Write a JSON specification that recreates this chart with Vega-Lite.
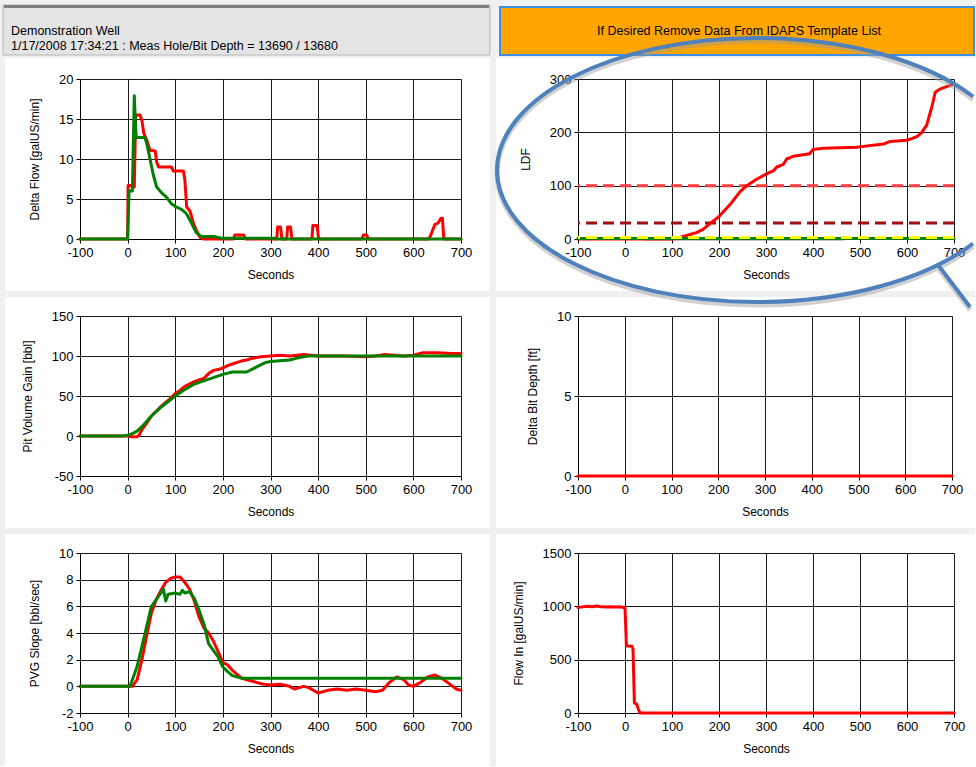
{
  "$schema": "https://vega.github.io/schema/vega-lite/v6.json",
  "background": "white",
  "padding": {"left": 0, "top": 0, "right": 0, "bottom": 0},
  "columns": 2,
  "bounds": "flush",
  "align": "each",
  "spacing": {"row": 77, "column": 117},
  "datasets": {
    "header": [
      {"box": "info", "line": 1, "text": "Demonstration Well"},
      {"box": "info", "line": 2, "text": "1/17/2008  17:34:21 : Meas Hole/Bit Depth = 13690 / 13680"},
      {"box": "action", "line": 1, "text": "If Desired Remove Data From IDAPS Template List"}
    ],
    "callout": [{"note": "LDF"}],
    "deltaFlow": [
      {"series": "Actual", "t": -100, "v": 0}, {"series": "Actual", "t": 0, "v": 0}, {"series": "Actual", "t": 1, "v": 6.7}, {"series": "Actual", "t": 8, "v": 6.7}, {"series": "Actual", "t": 10, "v": 6.5}, {"series": "Actual", "t": 14, "v": 6.5}, {"series": "Actual", "t": 17, "v": 15.5}, {"series": "Actual", "t": 26, "v": 15.5}, {"series": "Actual", "t": 30, "v": 14.8}, {"series": "Actual", "t": 34, "v": 13.2}, {"series": "Actual", "t": 40, "v": 12.4}, {"series": "Actual", "t": 47, "v": 11.1}, {"series": "Actual", "t": 58, "v": 11}, {"series": "Actual", "t": 61, "v": 9.6}, {"series": "Actual", "t": 65, "v": 9}, {"series": "Actual", "t": 92, "v": 9}, {"series": "Actual", "t": 96, "v": 8.5}, {"series": "Actual", "t": 117, "v": 8.5}, {"series": "Actual", "t": 120, "v": 7.5}, {"series": "Actual", "t": 124, "v": 4}, {"series": "Actual", "t": 131, "v": 3.5}, {"series": "Actual", "t": 138, "v": 2}, {"series": "Actual", "t": 145, "v": 1}, {"series": "Actual", "t": 152, "v": 0.2}, {"series": "Actual", "t": 160, "v": 0}, {"series": "Actual", "t": 222, "v": 0}, {"series": "Actual", "t": 225, "v": 0.5}, {"series": "Actual", "t": 244, "v": 0.5}, {"series": "Actual", "t": 247, "v": 0}, {"series": "Actual", "t": 313, "v": 0}, {"series": "Actual", "t": 315, "v": 1.5}, {"series": "Actual", "t": 321, "v": 1.5}, {"series": "Actual", "t": 324, "v": 0}, {"series": "Actual", "t": 334, "v": 0}, {"series": "Actual", "t": 336, "v": 1.5}, {"series": "Actual", "t": 342, "v": 1.5}, {"series": "Actual", "t": 345, "v": 0}, {"series": "Actual", "t": 387, "v": 0}, {"series": "Actual", "t": 389, "v": 1.7}, {"series": "Actual", "t": 398, "v": 1.7}, {"series": "Actual", "t": 401, "v": 0}, {"series": "Actual", "t": 492, "v": 0}, {"series": "Actual", "t": 495, "v": 0.5}, {"series": "Actual", "t": 502, "v": 0.5}, {"series": "Actual", "t": 505, "v": 0}, {"series": "Actual", "t": 632, "v": 0}, {"series": "Actual", "t": 636, "v": 0.4}, {"series": "Actual", "t": 645, "v": 1.8}, {"series": "Actual", "t": 652, "v": 2}, {"series": "Actual", "t": 658, "v": 2.6}, {"series": "Actual", "t": 661, "v": 2.6}, {"series": "Actual", "t": 664, "v": 0}, {"series": "Actual", "t": 700, "v": 0},
      {"series": "Expected", "t": -100, "v": 0}, {"series": "Expected", "t": 0, "v": 0}, {"series": "Expected", "t": 3, "v": 6}, {"series": "Expected", "t": 10, "v": 6}, {"series": "Expected", "t": 12, "v": 12}, {"series": "Expected", "t": 14, "v": 17.9}, {"series": "Expected", "t": 16, "v": 15}, {"series": "Expected", "t": 18, "v": 12.7}, {"series": "Expected", "t": 36, "v": 12.7}, {"series": "Expected", "t": 40, "v": 12}, {"series": "Expected", "t": 47, "v": 10}, {"series": "Expected", "t": 54, "v": 8}, {"series": "Expected", "t": 61, "v": 6.5}, {"series": "Expected", "t": 71, "v": 5.8}, {"series": "Expected", "t": 82, "v": 5.2}, {"series": "Expected", "t": 92, "v": 4.4}, {"series": "Expected", "t": 102, "v": 4}, {"series": "Expected", "t": 113, "v": 3.7}, {"series": "Expected", "t": 123, "v": 3.2}, {"series": "Expected", "t": 134, "v": 2}, {"series": "Expected", "t": 144, "v": 0.8}, {"series": "Expected", "t": 155, "v": 0.3}, {"series": "Expected", "t": 183, "v": 0.3}, {"series": "Expected", "t": 197, "v": 0.1}, {"series": "Expected", "t": 308, "v": 0.1}, {"series": "Expected", "t": 312, "v": 0}, {"series": "Expected", "t": 700, "v": 0}
    ],
    "ldf": [
      {"series": "Ref", "t": 40, "v": -1}, {"series": "Ref", "t": 465, "v": -1},
      {"series": "LDF", "t": -100, "v": 0}, {"series": "LDF", "t": 100, "v": 0}, {"series": "LDF", "t": 110, "v": 1}, {"series": "LDF", "t": 124, "v": 5}, {"series": "LDF", "t": 140, "v": 9}, {"series": "LDF", "t": 152, "v": 12}, {"series": "LDF", "t": 166, "v": 18}, {"series": "LDF", "t": 181, "v": 29}, {"series": "LDF", "t": 200, "v": 42}, {"series": "LDF", "t": 224, "v": 65}, {"series": "LDF", "t": 244, "v": 88}, {"series": "LDF", "t": 259, "v": 100}, {"series": "LDF", "t": 280, "v": 112}, {"series": "LDF", "t": 301, "v": 122}, {"series": "LDF", "t": 316, "v": 128}, {"series": "LDF", "t": 323, "v": 135}, {"series": "LDF", "t": 337, "v": 140}, {"series": "LDF", "t": 344, "v": 150}, {"series": "LDF", "t": 358, "v": 155}, {"series": "LDF", "t": 379, "v": 158}, {"series": "LDF", "t": 393, "v": 160}, {"series": "LDF", "t": 400, "v": 168}, {"series": "LDF", "t": 422, "v": 170}, {"series": "LDF", "t": 493, "v": 172}, {"series": "LDF", "t": 528, "v": 176}, {"series": "LDF", "t": 550, "v": 178}, {"series": "LDF", "t": 564, "v": 183}, {"series": "LDF", "t": 600, "v": 185}, {"series": "LDF", "t": 621, "v": 192}, {"series": "LDF", "t": 631, "v": 199}, {"series": "LDF", "t": 642, "v": 214}, {"series": "LDF", "t": 653, "v": 248}, {"series": "LDF", "t": 660, "v": 275}, {"series": "LDF", "t": 670, "v": 281}, {"series": "LDF", "t": 700, "v": 291},
      {"series": "Trend", "t": -100, "v": 1}, {"series": "Trend", "t": 700, "v": 1}
    ],
    "ldfLimits": [
      {"limit": "High", "v": 100},
      {"limit": "Medium", "v": 30},
      {"limit": "Low", "v": 3}
    ],
    "pvg": [
      {"series": "Actual", "t": -100, "v": 0}, {"series": "Actual", "t": 0, "v": 0}, {"series": "Actual", "t": 10, "v": -1}, {"series": "Actual", "t": 20, "v": -1}, {"series": "Actual", "t": 25, "v": 2}, {"series": "Actual", "t": 30, "v": 8}, {"series": "Actual", "t": 40, "v": 16}, {"series": "Actual", "t": 50, "v": 25}, {"series": "Actual", "t": 60, "v": 31}, {"series": "Actual", "t": 70, "v": 37}, {"series": "Actual", "t": 80, "v": 42}, {"series": "Actual", "t": 90, "v": 47}, {"series": "Actual", "t": 100, "v": 53}, {"series": "Actual", "t": 110, "v": 57}, {"series": "Actual", "t": 120, "v": 62}, {"series": "Actual", "t": 130, "v": 65}, {"series": "Actual", "t": 140, "v": 68}, {"series": "Actual", "t": 150, "v": 70}, {"series": "Actual", "t": 160, "v": 72}, {"series": "Actual", "t": 170, "v": 78}, {"series": "Actual", "t": 180, "v": 82}, {"series": "Actual", "t": 190, "v": 83}, {"series": "Actual", "t": 200, "v": 85}, {"series": "Actual", "t": 210, "v": 88}, {"series": "Actual", "t": 220, "v": 90}, {"series": "Actual", "t": 230, "v": 92}, {"series": "Actual", "t": 240, "v": 94}, {"series": "Actual", "t": 250, "v": 95}, {"series": "Actual", "t": 260, "v": 97}, {"series": "Actual", "t": 270, "v": 98}, {"series": "Actual", "t": 280, "v": 99}, {"series": "Actual", "t": 300, "v": 100}, {"series": "Actual", "t": 320, "v": 101}, {"series": "Actual", "t": 340, "v": 100}, {"series": "Actual", "t": 370, "v": 102}, {"series": "Actual", "t": 400, "v": 100}, {"series": "Actual", "t": 450, "v": 100}, {"series": "Actual", "t": 500, "v": 99}, {"series": "Actual", "t": 520, "v": 100}, {"series": "Actual", "t": 540, "v": 102}, {"series": "Actual", "t": 560, "v": 101}, {"series": "Actual", "t": 580, "v": 100}, {"series": "Actual", "t": 600, "v": 101}, {"series": "Actual", "t": 620, "v": 104}, {"series": "Actual", "t": 650, "v": 104}, {"series": "Actual", "t": 680, "v": 103}, {"series": "Actual", "t": 700, "v": 103},
      {"series": "Expected", "t": -100, "v": 0}, {"series": "Expected", "t": -10, "v": 0}, {"series": "Expected", "t": 0, "v": 1}, {"series": "Expected", "t": 10, "v": 3}, {"series": "Expected", "t": 20, "v": 6}, {"series": "Expected", "t": 30, "v": 11.7}, {"series": "Expected", "t": 50, "v": 25}, {"series": "Expected", "t": 70, "v": 36}, {"series": "Expected", "t": 100, "v": 50}, {"series": "Expected", "t": 120, "v": 58}, {"series": "Expected", "t": 140, "v": 65}, {"series": "Expected", "t": 160, "v": 69}, {"series": "Expected", "t": 180, "v": 73}, {"series": "Expected", "t": 200, "v": 77}, {"series": "Expected", "t": 220, "v": 80}, {"series": "Expected", "t": 250, "v": 80}, {"series": "Expected", "t": 270, "v": 86}, {"series": "Expected", "t": 290, "v": 92}, {"series": "Expected", "t": 300, "v": 93}, {"series": "Expected", "t": 340, "v": 95}, {"series": "Expected", "t": 360, "v": 98}, {"series": "Expected", "t": 380, "v": 100}, {"series": "Expected", "t": 700, "v": 100}
    ],
    "bitDepth": [
      {"series": "Actual", "t": -100, "v": 0}, {"series": "Actual", "t": 700, "v": 0}
    ],
    "slope": [
      {"series": "Actual", "t": -100, "v": 0}, {"series": "Actual", "t": 10, "v": 0}, {"series": "Actual", "t": 20, "v": 0.5}, {"series": "Actual", "t": 30, "v": 2}, {"series": "Actual", "t": 40, "v": 3.8}, {"series": "Actual", "t": 50, "v": 5.5}, {"series": "Actual", "t": 60, "v": 6.5}, {"series": "Actual", "t": 70, "v": 7.2}, {"series": "Actual", "t": 80, "v": 7.8}, {"series": "Actual", "t": 90, "v": 8.1}, {"series": "Actual", "t": 100, "v": 8.2}, {"series": "Actual", "t": 110, "v": 8.2}, {"series": "Actual", "t": 120, "v": 7.8}, {"series": "Actual", "t": 130, "v": 7.3}, {"series": "Actual", "t": 140, "v": 6.4}, {"series": "Actual", "t": 150, "v": 5.2}, {"series": "Actual", "t": 160, "v": 4.4}, {"series": "Actual", "t": 170, "v": 4.0}, {"series": "Actual", "t": 180, "v": 3.4}, {"series": "Actual", "t": 190, "v": 2.6}, {"series": "Actual", "t": 200, "v": 1.8}, {"series": "Actual", "t": 210, "v": 1.6}, {"series": "Actual", "t": 220, "v": 1.2}, {"series": "Actual", "t": 240, "v": 0.6}, {"series": "Actual", "t": 260, "v": 0.4}, {"series": "Actual", "t": 280, "v": 0.2}, {"series": "Actual", "t": 300, "v": 0.1}, {"series": "Actual", "t": 320, "v": 0.15}, {"series": "Actual", "t": 340, "v": 0}, {"series": "Actual", "t": 350, "v": -0.2}, {"series": "Actual", "t": 370, "v": 0}, {"series": "Actual", "t": 380, "v": -0.1}, {"series": "Actual", "t": 400, "v": -0.5}, {"series": "Actual", "t": 420, "v": -0.3}, {"series": "Actual", "t": 440, "v": -0.2}, {"series": "Actual", "t": 460, "v": -0.3}, {"series": "Actual", "t": 480, "v": -0.2}, {"series": "Actual", "t": 500, "v": -0.3}, {"series": "Actual", "t": 520, "v": -0.4}, {"series": "Actual", "t": 535, "v": -0.3}, {"series": "Actual", "t": 550, "v": 0.3}, {"series": "Actual", "t": 565, "v": 0.7}, {"series": "Actual", "t": 580, "v": 0.5}, {"series": "Actual", "t": 590, "v": 0.1}, {"series": "Actual", "t": 600, "v": 0}, {"series": "Actual", "t": 615, "v": 0.3}, {"series": "Actual", "t": 630, "v": 0.7}, {"series": "Actual", "t": 645, "v": 0.85}, {"series": "Actual", "t": 660, "v": 0.6}, {"series": "Actual", "t": 675, "v": 0.2}, {"series": "Actual", "t": 690, "v": -0.2}, {"series": "Actual", "t": 700, "v": -0.3},
      {"series": "Expected", "t": -100, "v": 0}, {"series": "Expected", "t": 5, "v": 0}, {"series": "Expected", "t": 10, "v": 0.5}, {"series": "Expected", "t": 20, "v": 1.5}, {"series": "Expected", "t": 30, "v": 3}, {"series": "Expected", "t": 40, "v": 4.5}, {"series": "Expected", "t": 50, "v": 6}, {"series": "Expected", "t": 60, "v": 6.5}, {"series": "Expected", "t": 70, "v": 7}, {"series": "Expected", "t": 75, "v": 7.3}, {"series": "Expected", "t": 80, "v": 6.4}, {"series": "Expected", "t": 85, "v": 6.9}, {"series": "Expected", "t": 100, "v": 7}, {"series": "Expected", "t": 110, "v": 6.9}, {"series": "Expected", "t": 115, "v": 7.2}, {"series": "Expected", "t": 120, "v": 7}, {"series": "Expected", "t": 130, "v": 7.1}, {"series": "Expected", "t": 140, "v": 6.6}, {"series": "Expected", "t": 150, "v": 5.7}, {"series": "Expected", "t": 160, "v": 4.7}, {"series": "Expected", "t": 170, "v": 3.2}, {"series": "Expected", "t": 180, "v": 2.7}, {"series": "Expected", "t": 190, "v": 2.2}, {"series": "Expected", "t": 200, "v": 1.45}, {"series": "Expected", "t": 210, "v": 1.1}, {"series": "Expected", "t": 220, "v": 0.8}, {"series": "Expected", "t": 240, "v": 0.6}, {"series": "Expected", "t": 700, "v": 0.6}
    ],
    "flowIn": [
      {"series": "Actual", "t": -100, "v": 990}, {"series": "Actual", "t": -90, "v": 995}, {"series": "Actual", "t": -80, "v": 1000}, {"series": "Actual", "t": -70, "v": 996}, {"series": "Actual", "t": -60, "v": 1003}, {"series": "Actual", "t": -50, "v": 995}, {"series": "Actual", "t": -40, "v": 993}, {"series": "Actual", "t": -30, "v": 995}, {"series": "Actual", "t": -20, "v": 994}, {"series": "Actual", "t": -10, "v": 995}, {"series": "Actual", "t": -3, "v": 990}, {"series": "Actual", "t": 0, "v": 985}, {"series": "Actual", "t": 3, "v": 630}, {"series": "Actual", "t": 15, "v": 625}, {"series": "Actual", "t": 17, "v": 600}, {"series": "Actual", "t": 20, "v": 95}, {"series": "Actual", "t": 25, "v": 82}, {"series": "Actual", "t": 28, "v": 40}, {"series": "Actual", "t": 32, "v": 0}, {"series": "Actual", "t": 700, "v": 0}
    ]
  },
  "concat": [
    {
      "width": 381, "height": 2,
      "data": {"name": "header"},
      "transform": [{"filter": "datum.box === 'info'"}],
      "layer": [
        {
          "transform": [{"filter": "datum.line === 1"}],
          "mark": {"type": "rect", "fill": "#f0f0f0"},
          "encoding": {
            "x": {"datum": -80, "type": "quantitative", "scale": {"domain": [0, 381], "nice": false, "zero": false}, "axis": null},
            "x2": {"datum": 895},
            "y": {"datum": 0, "type": "quantitative", "scale": {"domain": [0, 2], "reverse": true, "nice": false, "zero": false}, "axis": null},
            "y2": {"datum": 58}
          }
        },
        {
          "transform": [{"filter": "datum.line === 1"}],
          "mark": {"type": "rect", "fill": "#f0f0f0"},
          "encoding": {
            "x": {"datum": -80, "type": "quantitative", "scale": {"domain": [0, 381], "nice": false, "zero": false}, "axis": null},
            "x2": {"datum": 895},
            "y": {"datum": 291, "type": "quantitative", "scale": {"domain": [0, 2], "reverse": true, "nice": false, "zero": false}, "axis": null},
            "y2": {"datum": 297}
          }
        },
        {
          "transform": [{"filter": "datum.line === 1"}],
          "mark": {"type": "rect", "fill": "#f0f0f0"},
          "encoding": {
            "x": {"datum": -80, "type": "quantitative", "scale": {"domain": [0, 381], "nice": false, "zero": false}, "axis": null},
            "x2": {"datum": 895},
            "y": {"datum": 528, "type": "quantitative", "scale": {"domain": [0, 2], "reverse": true, "nice": false, "zero": false}, "axis": null},
            "y2": {"datum": 534}
          }
        },
        {
          "transform": [{"filter": "datum.line === 1"}],
          "mark": {"type": "rect", "fill": "#f0f0f0"},
          "encoding": {
            "x": {"datum": 410, "type": "quantitative", "scale": {"domain": [0, 381], "nice": false, "zero": false}, "axis": null},
            "x2": {"datum": 416},
            "y": {"datum": 0, "type": "quantitative", "scale": {"domain": [0, 2], "reverse": true, "nice": false, "zero": false}, "axis": null},
            "y2": {"datum": 766}
          }
        },
        {
          "transform": [{"filter": "datum.line === 1"}],
          "mark": {"type": "rect", "fill": "#f0f0f0"},
          "encoding": {
            "x": {"datum": -80, "type": "quantitative", "scale": {"domain": [0, 381], "nice": false, "zero": false}, "axis": null},
            "x2": {"datum": -75},
            "y": {"datum": 0, "type": "quantitative", "scale": {"domain": [0, 2], "reverse": true, "nice": false, "zero": false}, "axis": null},
            "y2": {"datum": 766}
          }
        },
        {
          "transform": [{"filter": "datum.line === 1"}],
          "mark": {"type": "rect", "fill": "#e4e4e4", "stroke": "#b8b8b8", "strokeWidth": 1},
          "encoding": {
            "x": {"datum": -77, "type": "quantitative", "scale": {"domain": [0, 381], "nice": false, "zero": false}, "axis": null},
            "x2": {"datum": 410},
            "y": {"datum": 5, "type": "quantitative", "scale": {"domain": [0, 2], "reverse": true, "nice": false, "zero": false}, "axis": null},
            "y2": {"datum": 55}
          }
        },
        {
          "transform": [{"filter": "datum.line === 1"}],
          "mark": {"type": "rule", "stroke": "#808080", "strokeWidth": 3},
          "encoding": {
            "x": {"datum": -76, "type": "quantitative", "scale": {"domain": [0, 381], "nice": false, "zero": false}, "axis": null},
            "x2": {"datum": 409},
            "y": {"datum": 6.5, "type": "quantitative", "scale": {"domain": [0, 2], "reverse": true, "nice": false, "zero": false}, "axis": null}
          }
        },
        {
          "transform": [{"filter": "datum.line === 1"}],
          "mark": {"type": "text", "align": "left", "baseline": "middle", "fontSize": 12.5, "font": "Liberation Sans", "color": "#000"},
          "encoding": {
            "x": {"datum": -69, "type": "quantitative", "scale": {"domain": [0, 381], "nice": false, "zero": false}, "axis": null},
            "y": {"datum": 31, "type": "quantitative", "scale": {"domain": [0, 2], "reverse": true, "nice": false, "zero": false}, "axis": null},
            "text": {"field": "text"}
          }
        },
        {
          "transform": [{"filter": "datum.line === 2"}],
          "mark": {"type": "text", "align": "left", "baseline": "middle", "fontSize": 12.5, "font": "Liberation Sans", "color": "#000"},
          "encoding": {
            "x": {"datum": -69, "type": "quantitative", "scale": {"domain": [0, 381], "nice": false, "zero": false}, "axis": null},
            "y": {"datum": 46, "type": "quantitative", "scale": {"domain": [0, 2], "reverse": true, "nice": false, "zero": false}, "axis": null},
            "text": {"field": "text"}
          }
        }
      ]
    },
    {
      "width": 376, "height": 2,
      "data": {"name": "header"},
      "transform": [{"filter": "datum.box === 'action'"}],
      "layer": [
        {
          "mark": {"type": "rect", "fill": "#ffa500", "stroke": "#3c8fe3", "strokeWidth": 2},
          "encoding": {
            "x": {"datum": -78, "type": "quantitative", "scale": {"domain": [0, 376], "nice": false, "zero": false}, "axis": null},
            "x2": {"datum": 396},
            "y": {"datum": 7, "type": "quantitative", "scale": {"domain": [0, 2], "reverse": true, "nice": false, "zero": false}, "axis": null},
            "y2": {"datum": 55}
          }
        },
        {
          "mark": {"type": "text", "align": "center", "baseline": "middle", "fontSize": 12.5, "font": "Liberation Sans", "color": "#000"},
          "encoding": {
            "x": {"datum": 161, "type": "quantitative", "scale": {"domain": [0, 376], "nice": false, "zero": false}, "axis": null},
            "y": {"datum": 31, "type": "quantitative", "scale": {"domain": [0, 2], "reverse": true, "nice": false, "zero": false}, "axis": null},
            "text": {"field": "text"}
          }
        }
      ]
    },
    {
      "width": 381, "height": 160,
      "data": {"name": "deltaFlow"},
      "mark": {"type": "line", "strokeWidth": 3},
      "encoding": {
        "x": {"field": "t", "type": "quantitative", "scale": {"domain": [-100, 700], "nice": false, "zero": false}, "axis": {"values": [-100, 0, 100, 200, 300, 400, 500, 600, 700], "labelExpr": "'' + datum.value"}, "title": "Seconds"},
        "y": {"field": "v", "type": "quantitative", "scale": {"domain": [0, 20], "nice": false, "zero": false}, "axis": {"values": [0, 5, 10, 15, 20], "labelExpr": "'' + datum.value"}, "title": "Delta Flow [galUS/min]"},
        "color": {"field": "series", "type": "nominal", "scale": {"domain": ["Actual", "Expected"], "range": ["#ff0000", "#008000"]}, "legend": null}
      }
    },
    {
      "width": 376, "height": 160,
      "layer": [
        {
          "data": {"name": "ldf"},
          "transform": [{"filter": "datum.series === 'Ref'"}],
          "mark": {"type": "line", "color": "#8a8a8a", "strokeWidth": 2},
          "encoding": {
            "x": {"field": "t", "type": "quantitative", "scale": {"domain": [-100, 700], "nice": false, "zero": false}, "axis": {"values": [-100, 0, 100, 200, 300, 400, 500, 600, 700], "labelExpr": "'' + datum.value"}, "title": "Seconds"},
            "y": {"field": "v", "type": "quantitative", "scale": {"domain": [0, 300], "nice": false, "zero": false}, "axis": {"values": [0, 100, 200, 300], "labelExpr": "'' + datum.value"}, "title": "LDF"}
          }
        },
        {
          "data": {"name": "ldfLimits"},
          "transform": [{"filter": "datum.limit === 'High'"}],
          "mark": {"type": "rule", "color": "#ff3b3b", "strokeWidth": 3, "strokeDash": [11, 6]},
          "encoding": {
            "y": {"field": "v", "type": "quantitative", "scale": {"domain": [0, 300], "nice": false, "zero": false}, "axis": {"values": [0, 100, 200, 300], "labelExpr": "'' + datum.value"}, "title": "LDF"}
          }
        },
        {
          "data": {"name": "ldfLimits"},
          "transform": [{"filter": "datum.limit === 'Medium'"}],
          "mark": {"type": "rule", "color": "#9c1111", "strokeWidth": 3, "strokeDash": [11, 6]},
          "encoding": {
            "y": {"field": "v", "type": "quantitative", "scale": {"domain": [0, 300], "nice": false, "zero": false}, "axis": {"values": [0, 100, 200, 300], "labelExpr": "'' + datum.value"}, "title": "LDF"}
          }
        },
        {
          "data": {"name": "ldf"},
          "transform": [{"filter": "datum.series === 'LDF'"}],
          "mark": {"type": "line", "color": "#ff0000", "strokeWidth": 3},
          "encoding": {
            "x": {"field": "t", "type": "quantitative", "scale": {"domain": [-100, 700], "nice": false, "zero": false}, "axis": {"values": [-100, 0, 100, 200, 300, 400, 500, 600, 700], "labelExpr": "'' + datum.value"}, "title": "Seconds"},
            "y": {"field": "v", "type": "quantitative", "scale": {"domain": [0, 300], "nice": false, "zero": false}, "axis": {"values": [0, 100, 200, 300], "labelExpr": "'' + datum.value"}, "title": "LDF"}
          }
        },
        {
          "data": {"name": "ldf"},
          "transform": [{"filter": "datum.series === 'Trend'"}],
          "mark": {"type": "line", "color": "#008000", "strokeWidth": 3},
          "encoding": {
            "x": {"field": "t", "type": "quantitative", "scale": {"domain": [-100, 700], "nice": false, "zero": false}, "axis": {"values": [-100, 0, 100, 200, 300, 400, 500, 600, 700], "labelExpr": "'' + datum.value"}, "title": "Seconds"},
            "y": {"field": "v", "type": "quantitative", "scale": {"domain": [0, 300], "nice": false, "zero": false}, "axis": {"values": [0, 100, 200, 300], "labelExpr": "'' + datum.value"}, "title": "LDF"}
          }
        },
        {
          "data": {"name": "ldfLimits"},
          "transform": [{"filter": "datum.limit === 'Low'"}],
          "mark": {"type": "rule", "color": "#ffff00", "strokeWidth": 3, "strokeDash": [11, 6]},
          "encoding": {
            "y": {"field": "v", "type": "quantitative", "scale": {"domain": [0, 300], "nice": false, "zero": false}, "axis": {"values": [0, 100, 200, 300], "labelExpr": "'' + datum.value"}, "title": "LDF"}
          }
        }
      ]
    },
    {
      "width": 381, "height": 160,
      "data": {"name": "pvg"},
      "mark": {"type": "line", "strokeWidth": 3},
      "encoding": {
        "x": {"field": "t", "type": "quantitative", "scale": {"domain": [-100, 700], "nice": false, "zero": false}, "axis": {"values": [-100, 0, 100, 200, 300, 400, 500, 600, 700], "labelExpr": "'' + datum.value"}, "title": "Seconds"},
        "y": {"field": "v", "type": "quantitative", "scale": {"domain": [-50, 150], "nice": false, "zero": false}, "axis": {"values": [-50, 0, 50, 100, 150], "labelExpr": "'' + datum.value"}, "title": "Pit Volume Gain [bbl]"},
        "color": {"field": "series", "type": "nominal", "scale": {"domain": ["Actual", "Expected"], "range": ["#ff0000", "#008000"]}, "legend": null}
      }
    },
    {
      "width": 374, "height": 160,
      "data": {"name": "bitDepth"},
      "mark": {"type": "line", "strokeWidth": 3, "color": "#ff0000"},
      "encoding": {
        "x": {"field": "t", "type": "quantitative", "scale": {"domain": [-100, 700], "nice": false, "zero": false}, "axis": {"values": [-100, 0, 100, 200, 300, 400, 500, 600, 700], "labelExpr": "'' + datum.value"}, "title": "Seconds"},
        "y": {"field": "v", "type": "quantitative", "scale": {"domain": [0, 10], "nice": false, "zero": false}, "axis": {"values": [0, 5, 10], "labelExpr": "'' + datum.value"}, "title": "Delta Bit Depth [ft]"}
      }
    },
    {
      "width": 381, "height": 160,
      "data": {"name": "slope"},
      "mark": {"type": "line", "strokeWidth": 3},
      "encoding": {
        "x": {"field": "t", "type": "quantitative", "scale": {"domain": [-100, 700], "nice": false, "zero": false}, "axis": {"values": [-100, 0, 100, 200, 300, 400, 500, 600, 700], "labelExpr": "'' + datum.value"}, "title": "Seconds"},
        "y": {"field": "v", "type": "quantitative", "scale": {"domain": [-2, 10], "nice": false, "zero": false}, "axis": {"values": [-2, 0, 2, 4, 6, 8, 10], "labelExpr": "'' + datum.value"}, "title": "PVG Slope [bbl/sec]"},
        "color": {"field": "series", "type": "nominal", "scale": {"domain": ["Actual", "Expected"], "range": ["#ff0000", "#008000"]}, "legend": null}
      }
    },
    {
      "width": 376, "height": 160,
      "layer": [
        {
          "data": {"name": "flowIn"},
          "mark": {"type": "line", "strokeWidth": 3, "color": "#ff0000"},
          "encoding": {
            "x": {"field": "t", "type": "quantitative", "scale": {"domain": [-100, 700], "nice": false, "zero": false}, "axis": {"values": [-100, 0, 100, 200, 300, 400, 500, 600, 700], "labelExpr": "'' + datum.value"}, "title": "Seconds"},
            "y": {"field": "v", "type": "quantitative", "scale": {"domain": [0, 1500], "nice": false, "zero": false}, "axis": {"values": [0, 500, 1000, 1500], "labelExpr": "'' + datum.value"}, "title": "Flow In [galUS/min]"}
          }
        },
        {
          "data": {"name": "callout"},
          "mark": {"type": "point", "shape": "M 216 -73.5 C 167.7 -110.1 86.7 -132 0 -132 C -143.6 -132 -260 -72.9 -260 0 C -260 72.9 -143.6 132 0 132 C 86.7 132 167.7 110.1 216 73.5 M 181 95 L 213 137", "size": 4, "filled": false, "strokeWidth": 5, "color": "#9a9a9a", "opacity": 0.45, "yOffset": 3, "clip": false},
          "encoding": {
            "x": {"datum": 281, "type": "quantitative", "scale": {"domain": [-100, 700], "nice": false, "zero": false}, "axis": {"values": [-100, 0, 100, 200, 300, 400, 500, 600, 700], "labelExpr": "'' + datum.value"}, "title": "Seconds"},
            "y": {"datum": 5090.6, "type": "quantitative", "scale": {"domain": [0, 1500], "nice": false, "zero": false}, "axis": {"values": [0, 500, 1000, 1500], "labelExpr": "'' + datum.value"}, "title": "Flow In [galUS/min]"}
          }
        },
        {
          "data": {"name": "callout"},
          "mark": {"type": "point", "shape": "M 216 -73.5 C 167.7 -110.1 86.7 -132 0 -132 C -143.6 -132 -260 -72.9 -260 0 C -260 72.9 -143.6 132 0 132 C 86.7 132 167.7 110.1 216 73.5 M 181 95 L 213 137", "size": 4, "filled": false, "strokeWidth": 4, "color": "#4f81bd", "opacity": 1, "clip": false},
          "encoding": {
            "x": {"datum": 281, "type": "quantitative", "scale": {"domain": [-100, 700], "nice": false, "zero": false}, "axis": {"values": [-100, 0, 100, 200, 300, 400, 500, 600, 700], "labelExpr": "'' + datum.value"}, "title": "Seconds"},
            "y": {"datum": 5090.6, "type": "quantitative", "scale": {"domain": [0, 1500], "nice": false, "zero": false}, "axis": {"values": [0, 500, 1000, 1500], "labelExpr": "'' + datum.value"}, "title": "Flow In [galUS/min]"}
          }
        }
      ]
    }
  ],
  "config": {
    "view": {"stroke": null},
    "font": "Liberation Sans",
    "axis": {
      "labelFont": "Liberation Sans", "titleFont": "Liberation Sans",
      "labelFontSize": 13, "titleFontSize": 12, "titleFontWeight": "normal",
      "labelColor": "#000", "titleColor": "#000",
      "domainColor": "#000", "tickColor": "#000", "gridColor": "#000", "gridOpacity": 0.9,
      "tickSize": 4, "labelPadding": 3, "labelFlush": false, "labelOverlap": false
    },
    "axisX": {"titlePadding": 10},
    "axisY": {"titlePadding": 17},
    "line": {"strokeJoin": "round", "strokeCap": "round"}
  }
}
